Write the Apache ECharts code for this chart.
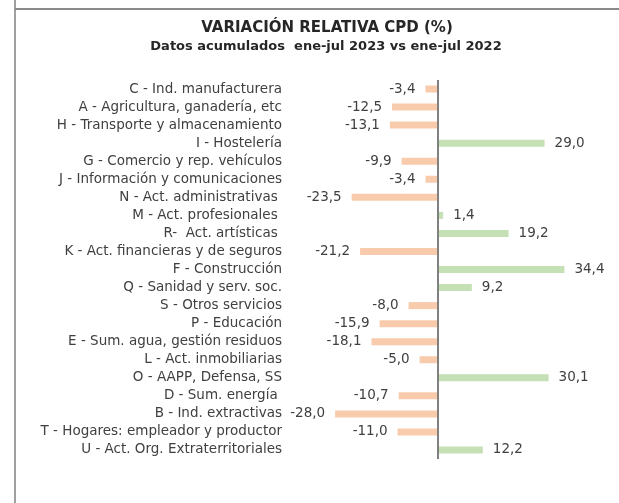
<!DOCTYPE html>
<html><head><meta charset="utf-8">
<script src="https://cdn.jsdelivr.net/npm/echarts@6/dist/echarts.min.js"></script>
<style>html,body{margin:0;padding:0;background:#fff}#c{width:619px;height:503px}</style>
</head><body><div id="c"></div>
<script>
const titleText = 'VARIACIÓN RELATIVA CPD (%)';
const subtitleText = 'Datos acumulados  ene-jul 2023 vs ene-jul 2022';
const categories = [
  'C - Ind. manufacturera',
  'A - Agricultura, ganadería, etc',
  'H - Transporte y almacenamiento',
  'I - Hostelería',
  'G - Comercio y rep. vehículos',
  'J - Información y comunicaciones',
  'N - Act. administrativas ',
  'M - Act. profesionales ',
  'R-  Act. artísticas ',
  'K - Act. financieras y de seguros',
  'F - Construcción',
  'Q - Sanidad y serv. soc.',
  'S - Otros servicios',
  'P - Educación',
  'E - Sum. agua, gestión residuos',
  'L - Act. inmobiliarias',
  'O - AAPP, Defensa, SS',
  'D - Sum. energía ',
  'B - Ind. extractivas',
  'T - Hogares: empleador y productor',
  'U - Act. Org. Extraterritoriales'
];
const values = [-3.4, -12.5, -13.1, 29.0, -9.9, -3.4, -23.5, 1.4, 19.2, -21.2, 34.4, 9.2, -8.0, -15.9, -18.1, -5.0, 30.1, -10.7, -28.0, -11.0, 12.2];
const posColor = '#C5E0B4';
const negColor = '#F8CBAD';
const FONT = 'DejaVu Sans';

const chart = echarts.init(document.getElementById('c'));
const data = values.map(v => ({
  value: v,
  itemStyle: { color: v >= 0 ? posColor : negColor },
  label: { position: v >= 0 ? 'right' : 'left' }
}));
chart.setOption({
  animation: false,
  backgroundColor: '#fff',
  title: [
    { text: titleText, left: 322, top: 16, textAlign: 'center',
      textStyle: { fontFamily: FONT, fontSize: 15, fontWeight: 'bold', color: '#262626' } },
    { text: subtitleText, left: 321, top: 35, textAlign: 'center',
      textStyle: { fontFamily: FONT, fontSize: 13, fontWeight: 'bold', color: '#262626' } }
  ],
  graphic: [
    { type: 'line', shape: { x1: 15, y1: 0, x2: 15, y2: 503 }, style: { stroke: '#808080', lineWidth: 1.5 } },
    { type: 'line', shape: { x1: 15, y1: 9, x2: 619, y2: 9 }, style: { stroke: '#8a8a8a', lineWidth: 2 } }
  ],
  grid: { left: 291, right: 34, top: 80, bottom: 44 },
  xAxis: { type: 'value', min: -40, max: 40, show: false },
  yAxis: {
    type: 'category', data: categories, inverse: true,
    axisLine: { show: false, onZero: false }, axisTick: { show: false },
    axisLabel: { interval: 0, margin: 9, padding: [4, 0, 0, 0], fontFamily: FONT, fontSize: 13.5, color: '#404040' }
  },
  series: [{
    type: 'bar', data: data, barWidth: 7,
    label: { show: true, distance: 10, padding: [3, 0, 0, 0], fontFamily: FONT, fontSize: 13.5, color: '#404040',
      formatter: p => p.value.toFixed(1).replace('.', ',') },
    markLine: {
      silent: true, symbol: 'none', label: { show: false },
      lineStyle: { color: '#808080', width: 2, type: 'solid' },
      data: [{ xAxis: 0 }]
    }
  }]
});
</script></body></html>
